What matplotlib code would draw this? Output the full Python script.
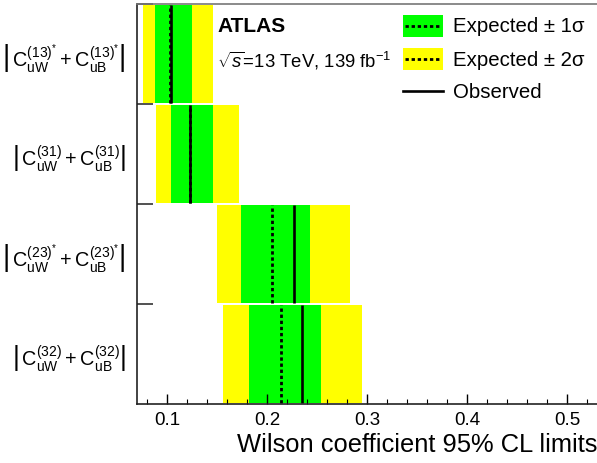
import matplotlib
matplotlib.use("Agg")
import matplotlib.pyplot as plt
from matplotlib.patches import Rectangle
from matplotlib.lines import Line2D
from matplotlib.ticker import MultipleLocator, FixedLocator, NullFormatter, FixedFormatter

plt.rcParams["font.family"] = ["Liberation Sans", "DejaVu Sans"]
plt.rcParams["mathtext.fontset"] = "custom"
plt.rcParams["mathtext.rm"] = "Liberation Sans"
plt.rcParams["mathtext.it"] = "Liberation Sans:italic"
plt.rcParams["mathtext.bf"] = "Liberation Sans:bold"

# Couplings, top to bottom
couplings = [
    r"$\left|\,\mathrm{C}_{\mathrm{uW}}^{(13)^{*}} + \mathrm{C}_{\mathrm{uB}}^{(13)^{*}}\right|$",
    r"$\left|\,\mathrm{C}_{\mathrm{uW}}^{(31)} + \mathrm{C}_{\mathrm{uB}}^{(31)}\right|$",
    r"$\left|\,\mathrm{C}_{\mathrm{uW}}^{(23)^{*}} + \mathrm{C}_{\mathrm{uB}}^{(23)^{*}}\right|$",
    r"$\left|\,\mathrm{C}_{\mathrm{uW}}^{(32)} + \mathrm{C}_{\mathrm{uB}}^{(32)}\right|$",
]
expected = [0.1035, 0.123, 0.2053, 0.214]
observed = [0.1045, 0.1235, 0.2273, 0.2353]
band1_lo = [0.088, 0.104, 0.1737, 0.182]
band1_hi = [0.125, 0.1457, 0.243, 0.2537]
band2_lo = [0.076, 0.0887, 0.1497, 0.1563]
band2_hi = [0.146, 0.172, 0.283, 0.2953]

green = "#00ff00"
yellow = "#ffff00"
dotted = (0, (1.2, 1.0))

W, H = 597, 464
fig = plt.figure(figsize=(W / 100, H / 100), dpi=100)
ax = fig.add_axes([137 / W, 59 / H, 490 / W, 400 / H])

n = len(couplings)
h = 0.975
for i in range(n):
    yc = n - 0.5 - i
    y0, y1 = yc - h / 2, yc + h / 2
    ax.fill_betweenx([y0, y1], band2_lo[i], band2_hi[i], color=yellow, lw=0)
    ax.fill_betweenx([y0, y1], band1_lo[i], band1_hi[i], color=green, lw=0)
    ax.vlines(observed[i], y0, y1, colors="black", linestyles="solid", lw=1.9)
    ax.vlines(expected[i], y0, y1, colors="black", linestyles=dotted, lw=2.0)

ax.set_xlim(0.07, 0.56)
ax.set_ylim(0, n)

# x axis ticks
ax.xaxis.set_major_locator(MultipleLocator(0.1))
ax.xaxis.set_minor_locator(MultipleLocator(0.02))
ax.tick_params(axis="x", which="major", direction="in", length=7, width=1.0, labelsize=13.5, pad=5)
ax.tick_params(axis="x", which="minor", direction="in", length=3.5, width=0.8)

# y axis: boundary ticks, labels at row centres
ax.yaxis.set_major_locator(FixedLocator([1, 2, 3, 4]))
ax.yaxis.set_major_formatter(NullFormatter())
ax.yaxis.set_minor_locator(FixedLocator([n - 0.5 - i for i in range(n)]))
ax.yaxis.set_minor_formatter(FixedFormatter(couplings))
ax.tick_params(axis="y", which="major", direction="in", length=11.5, width=1.2, color="#333333")
ax.tick_params(axis="y", which="minor", length=0, labelsize=14.3, pad=8)

for s in ["left", "bottom"]:
    ax.spines[s].set_linewidth(1.2)
    ax.spines[s].set_color("#222222")
ax.spines["top"].set_color("#777777")
ax.spines["top"].set_linewidth(1.2)
ax.spines["right"].set_visible(False)

fig.text(597 / W, 1 - 445 / H, "Wilson coefficient 95% CL limits",
         fontsize=18.4, ha="right", va="center")

fig.text(217 / W, 1 - 27 / H, "ATLAS", fontsize=15, fontweight="bold", va="center", ha="left")
fig.text(217 / W, 1 - 61 / H, r"$\sqrt{s}$=13 TeV, 139 fb$^{-1}$", fontsize=13.3, va="center", ha="left")

# legend, drawn in figure pixels
def px(x, y):
    return x / W, 1 - y / H

legend_rows = [
    (green, "Expected ± 1σ", 27),
    (yellow, "Expected ± 2σ", 60),
    (None, "Observed", 92),
]
for color, label, yc in legend_rows:
    if color is not None:
        fig.add_artist(Rectangle(px(403, yc + 11), 40 / W, 22 / H, transform=fig.transFigure,
                                 facecolor=color, lw=0))
        xs, ys = zip(px(405, yc), px(441, yc))
        fig.add_artist(Line2D(xs, ys, transform=fig.transFigure, color="black", ls=dotted, lw=2.0))
    else:
        xs, ys = zip(px(403, yc), px(443, yc))
        fig.add_artist(Line2D(xs, ys, transform=fig.transFigure, color="black", lw=1.9))
    fig.text(453 / W, 1 - yc / H, label, fontsize=14.7, va="center", ha="left")

fig.savefig("out.png", dpi=100)
